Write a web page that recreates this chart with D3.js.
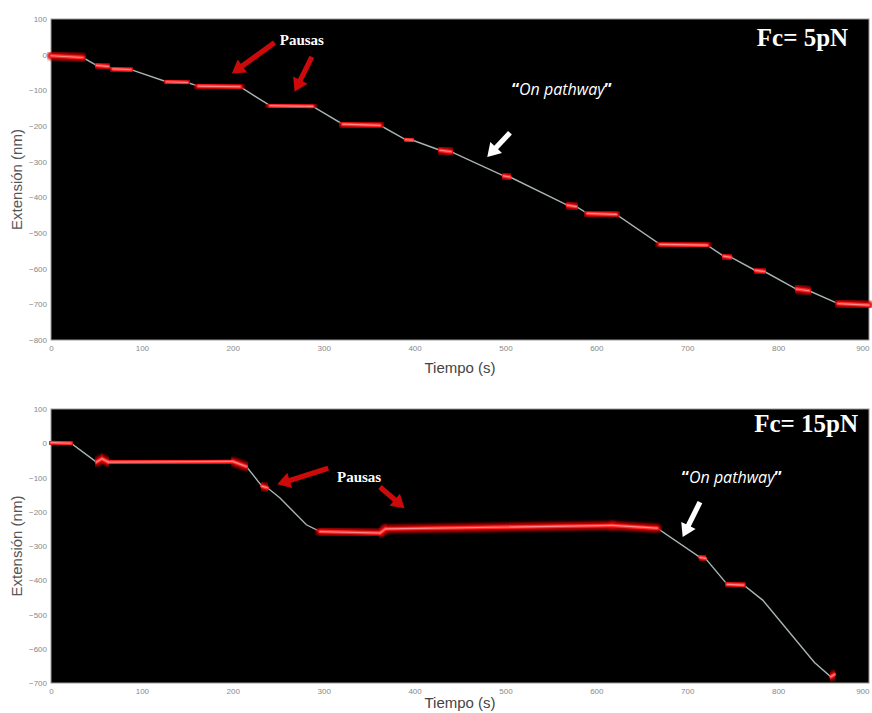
<!DOCTYPE html>
<html lang="es">
<head>
<meta charset="utf-8">
<title>Extensión vs tiempo</title>
<style>
  body { margin: 0; background: #fff; }
  svg text { font-family: "Liberation Sans", Arial, sans-serif; }
</style>
</head>
<body>
<div id="chart"></div>
<script src="https://d3js.org/d3.v7.min.js"></script>
<script>
// Fc = 5 pN : trace (s, nm)
var tiempo5 = [0, 35, 50, 63, 68, 88, 127, 150, 162, 208, 241, 288, 321, 362, 390, 398, 428, 440, 498, 505, 568, 578, 590, 622, 670, 722, 740, 748, 775, 785, 820, 834, 866, 900];
var ext5 = [-3, -8, -30, -33, -40, -42, -76, -78, -88, -90, -143, -145, -195, -198, -238, -240, -268, -272, -340, -343, -422, -426, -445, -448, -532, -534, -565, -568, -605, -608, -657, -662, -698, -702];
// 1 = the segment to the next point is a pause (red)
var pausa5 = [1, 0, 1, 0, 1, 0, 1, 0, 1, 0, 1, 0, 1, 0, 1, 0, 1, 0, 1, 0, 1, 0, 1, 0, 1, 0, 1, 0, 1, 0, 1, 0, 1];

// Fc = 15 pN
var tiempo15 = [0, 22, 50, 56, 63, 200, 215, 232, 238, 252, 281, 296, 362, 368, 618, 667, 714, 720, 744, 762, 783, 840, 858, 862];
var ext15 = [2, 0, -55, -45, -55, -53, -68, -125, -130, -160, -238, -258, -262, -250, -240, -248, -333, -336, -412, -414, -458, -640, -682, -675];
var pausa15 = [1, 0, 1, 1, 1, 1, 0, 1, 0, 0, 0, 1, 1, 1, 1, 0, 1, 0, 1, 0, 0, 0, 1];

var ticksX = [0, 100, 200, 300, 400, 500, 600, 700, 800, 900];
var ticksY5 = [100, 0, -100, -200, -300, -400, -500, -600, -700, -800];
var ticksY15 = [100, 0, -100, -200, -300, -400, -500, -600, -700];

// annotations in data units: [t tail, ext tail, t head, ext head]
var flechasRojas5 = [[246, 34, 199, -53], [287, -6, 268, -104]];
var flechaBlanca5 = [505, -219, 480, -287];
var flechasRojas15 = [[305, -73, 249, -120], [362, -128, 389, -190]];
var flechaBlanca15 = [714, -172, 695, -274];

var w = 872, h = 713;
var svg = d3.select("#chart").append("svg").attr("width", w).attr("height", h);

var defs = svg.append("defs");
defs.append("filter").attr("id", "glow")
  .attr("x", "-10%").attr("y", "-200%").attr("width", "120%").attr("height", "500%")
  .append("feGaussianBlur").attr("stdDeviation", 1.8);

function flecha(g, x1, y1, x2, y2, color) {
  var dx = x2 - x1, dy = y2 - y1;
  var len = Math.sqrt(dx * dx + dy * dy);
  var ux = dx / len, uy = dy / len, nx = -uy, ny = ux;
  var hl = 13, hw = 8, sw = 2.6;
  var bx = x2 - ux * hl, by = y2 - uy * hl;
  var pts = [
    [x1 + nx * sw, y1 + ny * sw], [bx + nx * sw, by + ny * sw], [bx + nx * hw, by + ny * hw],
    [x2, y2],
    [bx - nx * hw, by - ny * hw], [bx - nx * sw, by - ny * sw], [x1 - nx * sw, y1 - ny * sw]
  ];
  g.append("polygon").attr("points", pts.map(function (p) { return p.join(","); }).join(" "))
    .attr("fill", color);
}

function panel(cfg) {
  var x = d3.scaleLinear().domain([0, 900]).range([51, 869]);
  var y = d3.scaleLinear().domain(cfg.yDom).range(cfg.yRange);
  var g = svg.append("g");

  g.append("rect").attr("x", x(0)).attr("y", y(cfg.yDom[0]))
    .attr("width", x(900) - x(0)).attr("height", y(cfg.yDom[1]) - y(cfg.yDom[0]))
    .attr("fill", "#000").attr("stroke", "#999").attr("stroke-width", 1);

  var pts = cfg.t.map(function (d, i) { return [d, cfg.e[i]]; });
  var line = d3.line().x(function (d) { return x(d[0]); }).y(function (d) { return y(d[1]); });

  g.append("path").attr("d", line(pts)).attr("fill", "none")
    .attr("stroke", "#a9b5b2").attr("stroke-width", 1.4);

  var segs = [];
  cfg.p.forEach(function (v, i) { if (v) segs.push([pts[i], pts[i + 1]]); });

  g.selectAll(".glow").data(segs).enter().append("path")
    .attr("d", line).attr("fill", "none").attr("stroke", "#d00000")
    .attr("stroke-width", 8).attr("stroke-linecap", "round").attr("filter", "url(#glow)");
  g.selectAll(".pausa").data(segs).enter().append("path")
    .attr("d", line).attr("fill", "none").attr("stroke", "#ff2b2b")
    .attr("stroke-width", 3.5).attr("stroke-linecap", "round");
  g.selectAll(".centro").data(segs).enter().append("path")
    .attr("d", line).attr("fill", "none").attr("stroke", "#ff8a8a")
    .attr("stroke-width", 1.2).attr("stroke-linecap", "round");

  var ax = g.append("g").attr("transform", "translate(0," + y(cfg.yDom[1]) + ")")
    .call(d3.axisBottom(x).tickValues(ticksX).tickSize(0).tickPadding(5).tickFormat(d3.format("d")));
  var ay = g.append("g").attr("transform", "translate(" + x(0) + ",0)")
    .call(d3.axisLeft(y).tickValues(cfg.yTicks).tickSize(0).tickPadding(4).tickFormat(d3.format("d")));
  [ax, ay].forEach(function (a) {
    a.select(".domain").remove();
    a.selectAll("text").attr("fill", "#888").style("font-size", "8px");
  });
  // last x label would overflow the page edge
  ax.selectAll(".tick text").filter(function (d) { return d === 900; }).attr("text-anchor", "end");

  g.append("text").attr("x", 460).attr("y", y(cfg.yDom[1]) + cfg.tiempoDy)
    .attr("text-anchor", "middle").attr("fill", "#444").style("font-size", "15px")
    .text("Tiempo (s)");
  var cy = (y(cfg.yDom[0]) + y(cfg.yDom[1])) / 2;
  g.append("text").attr("transform", "translate(22," + cy + ") rotate(-90)")
    .attr("text-anchor", "middle").attr("fill", "#555").style("font-size", "15px")
    .text("Extensión (nm)");

  cfg.rojas.forEach(function (a) {
    flecha(g, x(a[0]), y(a[1]), x(a[2]), y(a[3]), "#cc0a0a");
  });
  var b = cfg.blanca;
  flecha(g, x(b[0]), y(b[1]), x(b[2]), y(b[3]), "#fff");

  g.append("text").attr("x", x(cfg.pausasPos[0])).attr("y", y(cfg.pausasPos[1]))
    .attr("text-anchor", "middle").attr("fill", "#fff")
    .style("font-family", "'Liberation Serif', 'Times New Roman', serif")
    .style("font-weight", "bold").style("font-size", "15px").text("Pausas");

  var op = g.append("text").attr("x", x(cfg.onPos[0])).attr("y", y(cfg.onPos[1]))
    .attr("text-anchor", "middle").attr("fill", "#fff")
    .style("font-family", "'Open Sans', 'DejaVu Sans', sans-serif").style("font-size", "16px");
  op.append("tspan").style("font-weight", "bold").text("\u201c");
  op.append("tspan").style("font-style", "italic").text("On pathway");
  op.append("tspan").style("font-weight", "bold").text("\u201d");

  g.append("text").attr("x", x(cfg.fcPos[0])).attr("y", y(cfg.fcPos[1]))
    .attr("text-anchor", "end").attr("fill", "#fff")
    .style("font-family", "'Liberation Serif', 'Times New Roman', serif")
    .style("font-weight", "bold").style("font-size", "25px").text(cfg.fc);
}

panel({
  t: tiempo5, e: ext5, p: pausa5,
  yDom: [100, -800], yRange: [19, 340], yTicks: ticksY5, tiempoDy: 33,
  rojas: flechasRojas5, blanca: flechaBlanca5,
  pausasPos: [276, 28], onPos: [562, -112], fcPos: [877, 25], fc: "Fc= 5pN"
});

panel({
  t: tiempo15, e: ext15, p: pausa15,
  yDom: [100, -700], yRange: [409, 683], yTicks: ticksY15, tiempoDy: 25,
  rojas: flechasRojas15, blanca: flechaBlanca15,
  pausasPos: [339, -114], onPos: [749, -117], fcPos: [888, 32], fc: "Fc= 15pN"
});
</script>
</body>
</html>
